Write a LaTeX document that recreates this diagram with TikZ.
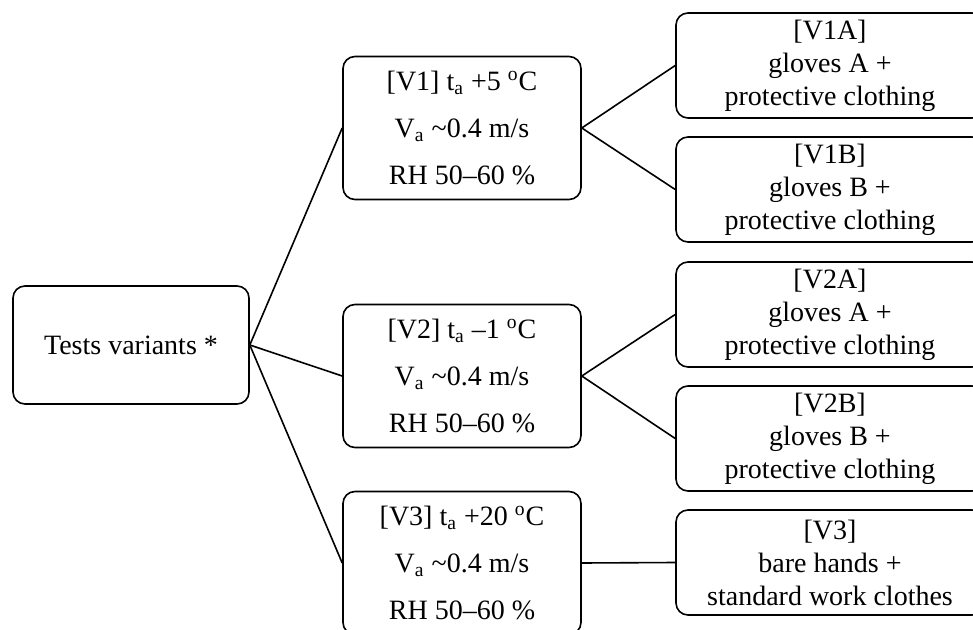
\documentclass[tikz,border=0pt]{standalone}
\usepackage{fontspec}
\setmainfont{Liberation Serif}
\usetikzlibrary{calc}

\begin{document}
\begin{tikzpicture}[x=0.5pt,y=-0.5pt,
    box/.style={draw,line width=0.8pt,rounded corners=6pt,inner sep=0pt,align=center},
    rootbox/.style={box,minimum width=118pt,minimum height=59pt,font=\fontsize{14}{16}\selectfont},
    midbox/.style={box,minimum width=119pt,minimum height=71.5pt,font=\fontsize{14}{23.5}\selectfont},
    endbox/.style={box,minimum width=154pt,minimum height=52.5pt,font=\fontsize{14}{16.5}\selectfont},
    link/.style={line width=0.8pt}]
                    \useasboundingbox (0,0) rectangle (973,630);
                    \clip (0,0) rectangle (973,630);
                    % first column
                    \node[rootbox] (root) at (131,345) {Tests variants *};
                    % conditions
                    \node[midbox] (v1) at (462,128) {[V1] t\textsubscript{a} +5 \textsuperscript{o}C\\ V\textsubscript{a} \textasciitilde0.4 m/s\\ RH 50--60 \%};
                    \node[midbox] (v2) at (462,376) {[V2] t\textsubscript{a} --1 \textsuperscript{o}C\\ V\textsubscript{a} \textasciitilde0.4 m/s\\ RH 50--60 \%};
                    \node[midbox] (v3) at (462,563) {[V3] t\textsubscript{a} +20 \textsuperscript{o}C\\ V\textsubscript{a} \textasciitilde0.4 m/s\\ RH 50--60 \%};
                    % clothing
                    \node[endbox] (v1a) at (830,65.5) {[V1A]\\ gloves A +\\ protective clothing};
                    \node[endbox] (v1b) at (830,189.5) {[V1B]\\ gloves B +\\ protective clothing};
                    \node[endbox] (v2a) at (830,314.5) {[V2A]\\ gloves A +\\ protective clothing};
                    \node[endbox] (v2b) at (830,438.5) {[V2B]\\ gloves B +\\ protective clothing};
                    \node[endbox] (v3r) at (830,562.5) {[V3]\\ bare hands +\\ standard work clothes};
                    % links
                    \draw[link] (root.east) -- (v1.west);
                    \draw[link] (root.east) -- (v2.west);
                    \draw[link] (root.east) -- (v3.west);
                    \draw[link] (v1.east) -- (v1a.west);
                    \draw[link] (v1.east) -- (v1b.west);
                    \draw[link] (v2.east) -- (v2a.west);
                    \draw[link] (v2.east) -- (v2b.west);
                    \draw[link] (v3.east) -- (v3r.west);
                \end{tikzpicture}
\end{document}
